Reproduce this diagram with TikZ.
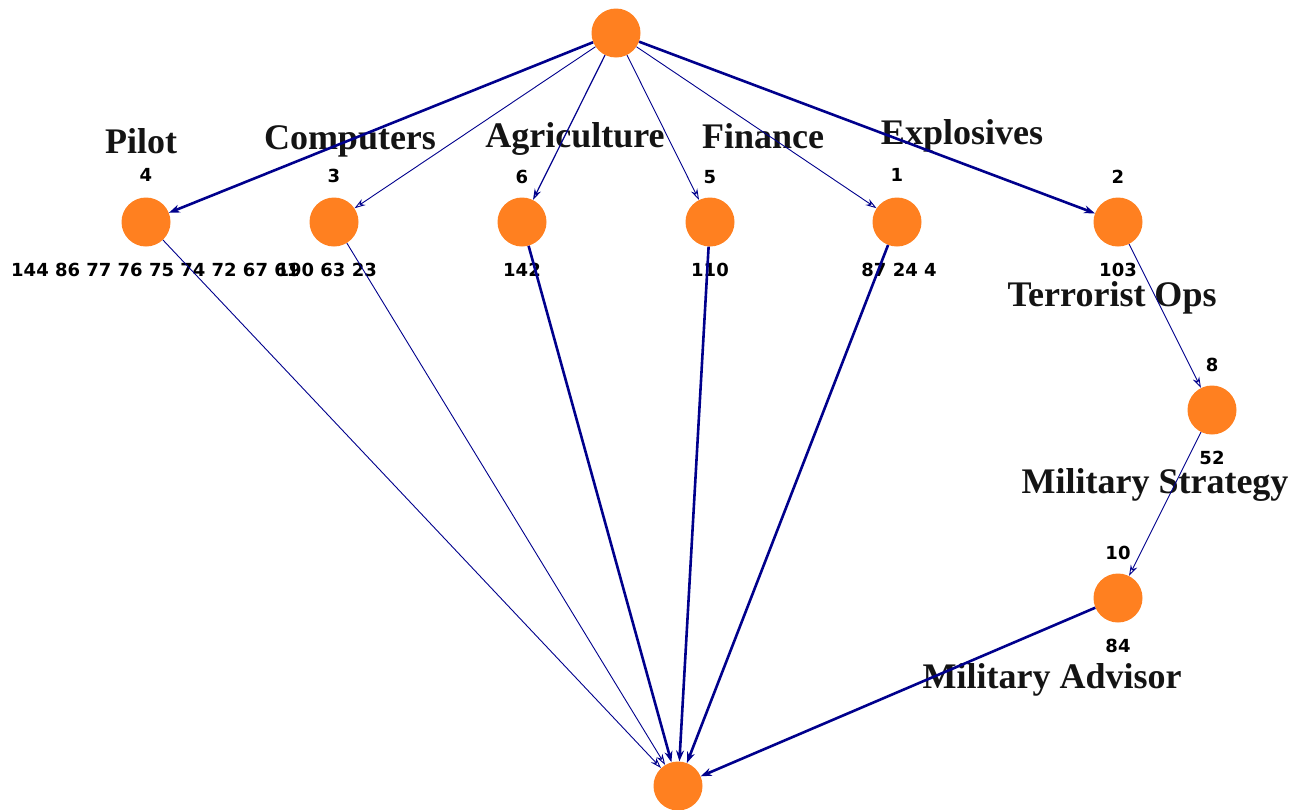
\documentclass[tikz,border=0pt]{standalone}
\usepackage{fontspec}
\usetikzlibrary{arrows.meta}
\newfontfamily\labelfont{Liberation Serif}[BoldFont={* Bold}]
\newfontfamily\numfont{DejaVu Sans}[BoldFont={* Bold}]
\definecolor{vertexorange}{RGB}{255,128,32}
\definecolor{edgenavy}{RGB}{0,0,140}
\tikzset{
  vertex/.style={circle, fill=vertexorange, draw=none, minimum size=49pt, inner sep=0pt},
  topic/.style={font=\labelfont\bfseries\fontsize{36}{36}\selectfont, inner sep=0pt, text=black!92},
  idnum/.style={font=\numfont\bfseries\fontsize{18}{18}\selectfont, inner sep=0pt},
  link/.style={draw=edgenavy, line width=0.9pt, -{Stealth[length=11pt,width=7pt,open]}},
  strong/.style={draw=edgenavy, line width=2.6pt, -{Stealth[length=11pt,width=8pt]}},
}
\begin{document}
\begin{tikzpicture}[x=1pt, y=-1pt]
\useasboundingbox (0,0) rectangle (1307,809);

% topic names
\node[topic] (tPilot) at (141,141) {Pilot};
\node[topic] (tComp) at (350,141) {Computers};
\node[topic] (tAgri) at (575,139) {Agriculture};
\node[topic] (tFin) at (763,136) {Finance};
\node[topic] (tExpl) at (962,136) {Explosives};
\node[topic] (tTerr) at (1112,298) {Terrorist Ops};
\node[topic] (tStrat) at (1155,485) {Military Strategy};
\node[topic] (tAdv) at (1052,680) {Military Advisor};

% identifiers above the vertices
\node[idnum] (i4) at (146,175) {4};
\node[idnum] (i3) at (334,176) {3};
\node[idnum] (i6) at (522,177) {6};
\node[idnum] (i5) at (710,177) {5};
\node[idnum] (i1) at (897,175) {1};
\node[idnum] (i2) at (1118,177) {2};
\node[idnum] (i8) at (1212,365) {8};
\node[idnum] (i10) at (1118,553) {10};

% member lists below the vertices
\node[idnum, anchor=west] (m4) at (11,270) {144 86 77 76 75 74 72 67 61};
\node[idnum, anchor=east] (m3) at (377,270) {190 63 23};
\node[idnum] (m6) at (522,270) {142};
\node[idnum] (m5) at (710,270) {110};
\node[idnum] (m1) at (899,270) {87 24 4};
\node[idnum] (m2) at (1118,270) {103};
\node[idnum] (m8) at (1212,458) {52};
\node[idnum] (m10) at (1118,646) {84};

% vertices
\node[vertex] (root) at (616,33) {};
\node[vertex] (v4) at (146,222) {};
\node[vertex] (v3) at (334,222) {};
\node[vertex] (v6) at (522,222) {};
\node[vertex] (v5) at (710,222) {};
\node[vertex] (v1) at (897,222) {};
\node[vertex] (v2) at (1118,222) {};
\node[vertex] (v8) at (1212,410) {};
\node[vertex] (v10) at (1118,598) {};
\node[vertex] (sink) at (678,786) {};

% edges from the root
\draw[strong] (root) -- (v4);
\draw[link] (root) -- (v3);
\draw[link, line width=1.2pt] (root) -- (v6);
\draw[link] (root) -- (v5);
\draw[link] (root) -- (v1);
\draw[strong] (root) -- (v2);

% chain on the right
\draw[link] (v2) -- (v8);
\draw[link] (v8) -- (v10);

% edges into the sink
\draw[link] (v4) -- (sink);
\draw[link] (v3) -- (sink);
\draw[strong] (v6) -- (sink);
\draw[strong] (v5) -- (sink);
\draw[strong] (v1) -- (sink);
\draw[strong] (v10) -- (sink);
\end{tikzpicture}
\end{document}
